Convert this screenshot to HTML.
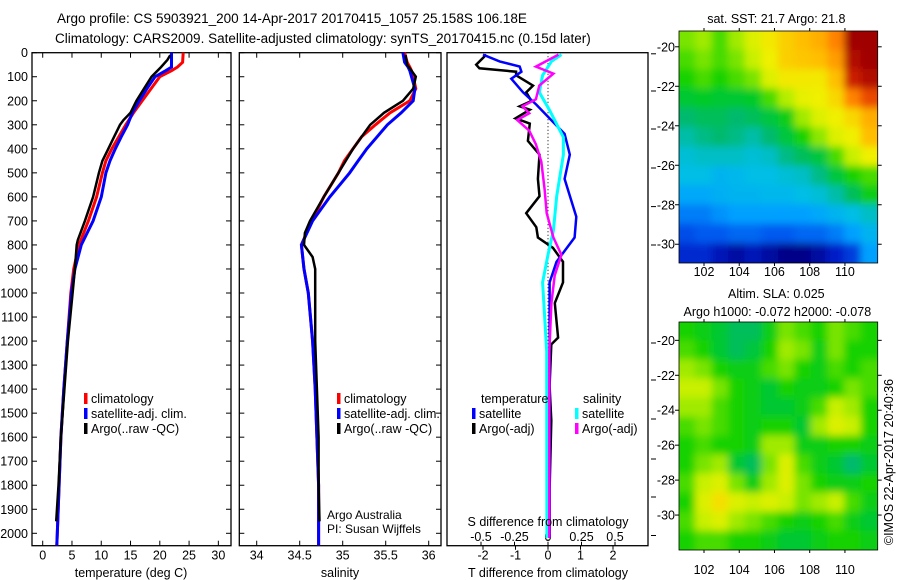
<!DOCTYPE html>
<html><head><meta charset="utf-8"><style>
body{margin:0;background:#fff;}
svg{display:block;font-family:"Liberation Sans",sans-serif;}
text{fill:#000;}
</style></head><body>
<svg id="root" width="900" height="580" viewBox="0 0 900 580">
<text x="57" y="23" font-size="13.5">Argo profile: CS 5903921_200 14-Apr-2017 20170415_1057 25.158S 106.18E</text>
<text x="55" y="43" font-size="13.5">Climatology: CARS2009. Satellite-adjusted climatology: synTS_20170415.nc (0.15d later)</text>
<g id="g1"></g>
<g id="g2"></g>
<g id="g3"></g>
<g id="g4"></g>
<g id="g5"></g>
<text x="0" y="0" font-size="12.5" text-anchor="middle" transform="translate(893,462) rotate(-90)">©IMOS 22-Apr-2017 20:40:36</text>
</svg>
<script>
// ---------- data ----------
const depthClim = [0,40,60,75,100,150,200,250,300,350,400,450,500,600,700,800,900,1000,1200,1400,1600,1800,2000,2050];
const tClim = [24,23.9,23,22,20,18.5,17,15.5,14.2,13,11.8,10.8,10.2,9.2,7.8,6.2,5.3,4.8,4.2,3.6,3.1,2.8,2.5,2.4];
const tSat  = [22,22,22,21,19.2,17.8,16.5,15.3,14.5,13.4,12.4,11.5,10.8,10,8.6,6.6,5.5,4.9,4.2,3.6,3.1,2.8,2.5,2.4];
const depthArgoT = [10,30,60,100,150,200,250,280,300,350,400,450,500,600,700,780,800,900,1000,1200,1400,1600,1800,1950];
const tArgo = [21.8,21.3,20.2,18.6,17.3,16,15,13.8,13.2,12.2,11.2,10.2,9.6,8.6,7.2,6,5.8,5.5,5.1,4.3,3.7,3.1,2.7,2.3];
const sClim = [35.72,35.75,35.78,35.8,35.82,35.85,35.78,35.55,35.38,35.22,35.12,35.02,34.95,34.78,34.64,34.52,34.55,34.6,34.65,34.68,34.7,34.72,34.72,34.72];
const sSat  = [35.7,35.72,35.76,35.78,35.8,35.84,35.82,35.68,35.52,35.4,35.28,35.18,35.08,34.85,34.65,34.52,34.55,34.6,34.65,34.68,34.7,34.72,34.72,34.72];
const depthArgoS = [10,50,100,150,200,250,300,400,500,600,700,750,800,850,900,1000,1200,1400,1600,1800,1950];
const sArgo = [35.73,35.75,35.85,35.82,35.7,35.48,35.32,35.12,34.95,34.78,34.62,34.56,34.55,34.65,34.68,34.68,34.68,34.7,34.72,34.72,34.73];
const dTSatDepth = [8,36,58,79,108,165,216,338,424,525,683,769,870,956,1243,2019];
const dTSat = [-2.0,-1.49,-0.87,-0.82,-1.13,-0.77,-0.36,0.51,0.67,0.51,0.87,0.82,0.26,0.05,0.05,0.05];
const dTArgoDepth = [8,50,65,79,94,137,165,201,223,237,273,295,367,424,525,597,668,726,769,812,870,956,1042,1186,1214,1387,1530,1818,2019];
const dTArgo = [-1.9,-2.21,-2.11,-0.98,-0.98,-0.46,-0.67,-0.51,-0.87,-0.56,-1.0,-0.56,-0.62,-0.26,-0.31,-0.26,-0.67,-0.36,-0.31,0.15,0.46,0.46,0.21,0.31,0.1,0.05,0.1,0.05,0.05];
const dSSatDepth = [8,36,94,165,237,352,424,597,740,841,956,1243,2019];
const dSSat = [0.10,0.025,-0.04,-0.065,0.01,0.115,0.115,0.065,0.04,0,-0.04,-0.01,-0.008];
const dSArgoDepth = [8,58,87,137,194,223,252,280,324,381,453,568,668,769,841,927,1042,1243,2019];
const dSArgo = [0.078,-0.09,0.04,-0.065,-0.09,-0.19,-0.14,-0.23,-0.14,-0.09,-0.05,-0.025,-0.01,0.04,0.1,0.05,0.025,0.01,0.01];
const depthTicks = [0,100,200,300,400,500,600,700,800,900,1000,1100,1200,1300,1400,1500,1600,1700,1800,1900,2000];
const tTicks = [0,5,10,15,20,25,30];
const sTicks = [34,34.5,35,35.5,36];
const dTTicks = [-2,-1,0,1,2];
const dSTicks = [-0.5,-0.25,0,0.25,0.5];
const latTicks = [-20,-22,-24,-26,-28,-30];
const lonTicks = [102,104,106,108,110];
// normalized colour values (0=dark blue .. 1=dark red), rows north->south, cols west->east
const sstGrid = [
[0.64,0.66,0.62,0.66,0.7,0.73,0.76,0.78,0.8,0.85,1.0,1.0],
[0.62,0.64,0.62,0.64,0.68,0.72,0.76,0.77,0.78,0.82,0.98,1.0],
[0.6,0.62,0.6,0.62,0.64,0.7,0.73,0.73,0.73,0.78,0.95,0.98],
[0.56,0.57,0.56,0.56,0.57,0.62,0.67,0.71,0.72,0.75,0.85,0.9],
[0.5,0.52,0.52,0.5,0.52,0.55,0.58,0.66,0.7,0.72,0.75,0.8],
[0.45,0.48,0.5,0.48,0.45,0.5,0.55,0.6,0.65,0.7,0.72,0.78],
[0.4,0.42,0.42,0.42,0.4,0.42,0.48,0.52,0.55,0.62,0.68,0.72],
[0.38,0.38,0.35,0.36,0.38,0.38,0.4,0.42,0.48,0.55,0.6,0.62],
[0.32,0.32,0.34,0.35,0.35,0.36,0.36,0.38,0.4,0.45,0.52,0.58],
[0.25,0.25,0.28,0.3,0.3,0.3,0.3,0.3,0.32,0.35,0.38,0.42],
[0.18,0.2,0.2,0.22,0.22,0.2,0.2,0.22,0.22,0.25,0.3,0.35],
[0.12,0.12,0.08,0.05,0.08,0.05,0.02,0.02,0.05,0.1,0.15,0.3]];
const slaGrid = [
[0.6,0.58,0.56,0.52,0.52,0.58,0.64,0.62,0.6,0.64,0.62,0.6],
[0.62,0.6,0.56,0.52,0.55,0.6,0.66,0.64,0.58,0.64,0.6,0.6],
[0.66,0.64,0.6,0.58,0.58,0.62,0.64,0.6,0.58,0.62,0.6,0.62],
[0.68,0.68,0.64,0.6,0.58,0.56,0.6,0.58,0.58,0.6,0.64,0.62],
[0.66,0.66,0.62,0.6,0.58,0.56,0.56,0.58,0.62,0.68,0.66,0.6],
[0.62,0.64,0.62,0.6,0.58,0.6,0.6,0.56,0.66,0.7,0.68,0.6],
[0.6,0.62,0.6,0.6,0.58,0.66,0.66,0.58,0.58,0.6,0.6,0.58],
[0.6,0.64,0.66,0.56,0.52,0.64,0.7,0.62,0.58,0.56,0.5,0.56],
[0.62,0.68,0.7,0.64,0.58,0.66,0.7,0.64,0.6,0.58,0.58,0.6],
[0.6,0.7,0.74,0.7,0.68,0.7,0.68,0.64,0.66,0.68,0.62,0.58],
[0.62,0.68,0.7,0.66,0.64,0.62,0.6,0.58,0.6,0.62,0.58,0.56],
[0.6,0.62,0.62,0.6,0.6,0.58,0.56,0.56,0.58,0.6,0.6,0.58]];

// ---------- helpers ----------
const NS='http://www.w3.org/2000/svg';
function mk(parent,tag,attrs,txt){const e=document.createElementNS(NS,tag);for(const k in attrs)e.setAttribute(k,attrs[k]);if(txt!==undefined)e.textContent=txt;parent.appendChild(e);return e;}
const TOP=52.7, BOT=545.7;
const yD=d=>TOP+d*0.2403;
const xT=t=>42.7+t*5.855;
const xS=s=>256.7+(s-34)*86;
const xDT=t=>548+t*32.5;
const xDS=s=>548+s*134;

function frame(g,x0,x1,name){
  const r=mk(g,'rect',{x:x0,y:TOP,width:x1-x0,height:BOT-TOP,fill:'none',stroke:'#000','stroke-width':1.3});
  
  
}
function line(g,xs,ys,color,w,name){
  const pts=xs.map((v,i)=>v.toFixed(1)+','+ys[i].toFixed(1)).join(' ');
  const p=mk(g,'polyline',{points:pts,fill:'none',stroke:color,'stroke-width':w,'stroke-linejoin':'miter'});
  
  
}
function depthTicksFor(g,x0,x1,labels){
  depthTicks.forEach(d=>{
    const y=yD(d);
    mk(g,'line',{x1:x0,y1:y,x2:x0+5,y2:y,stroke:'#000','stroke-width':1});
    mk(g,'line',{x1:x1,y1:y,x2:x1-5,y2:y,stroke:'#000','stroke-width':1});
    if(labels){const t=mk(g,'text',{x:x0-4,y:y+4.5,'font-size':12.5,'text-anchor':'end'},String(d));
      
      }
  });
}
function xTicksFor(g,vals,fx){
  vals.forEach(v=>{const x=fx(v);
    mk(g,'line',{x1:x,y1:BOT,x2:x,y2:BOT-5,stroke:'#000','stroke-width':1});
    mk(g,'line',{x1:x,y1:TOP,x2:x,y2:TOP+5,stroke:'#000','stroke-width':1});
    const t=mk(g,'text',{x:x,y:BOT+14,'font-size':12.5,'text-anchor':'middle'},String(v));
    
    
  });
}
function legend(g,x,y,color,label){
  const b=mk(g,'rect',{x:x,y:y-10,width:3.5,height:11,fill:color});
  
  
  const t=mk(g,'text',{x:x+7,y:y,'font-size':12.5},label);
  
  
}

// ---------- panel 1: temperature ----------
const g1=document.getElementById('g1');
frame(g1,32,231,'temperature-axes');
depthTicksFor(g1,32,231,true);
xTicksFor(g1,tTicks,xT);
line(g1,tClim.map(xT),depthClim.map(yD),'#f00',3,'temperature-climatology-line');
line(g1,tSat.map(xT),depthClim.map(yD),'#00f',3,'temperature-satellite-line');
line(g1,tArgo.map(xT),depthArgoT.map(yD),'#000',2.5,'temperature-argo-line');
legend(g1,84,403,'#f00','climatology');
legend(g1,84,418,'#00f','satellite-adj. clim.');
legend(g1,84,433,'#000','Argo(..raw -QC)');
mk(g1,'text',{x:131,y:577,'font-size':12.5,'text-anchor':'middle',},'temperature (deg C)');

// ---------- panel 2: salinity ----------
const g2=document.getElementById('g2');
frame(g2,239.3,441,'salinity-axes');
depthTicksFor(g2,239.3,441,false);
xTicksFor(g2,sTicks,xS);
line(g2,sClim.map(xS),depthClim.map(yD),'#f00',3,'salinity-climatology-line');
line(g2,sSat.map(xS),depthClim.map(yD),'#00f',3,'salinity-satellite-line');
line(g2,sArgo.map(xS),depthArgoS.map(yD),'#000',2.5,'salinity-argo-line');
legend(g2,337,403,'#f00','climatology');
legend(g2,337,418,'#00f','satellite-adj. clim.');
legend(g2,337,433,'#000','Argo(..raw -QC)');
mk(g2,'text',{x:327,y:519,'font-size':12,},'Argo Australia');
mk(g2,'text',{x:327,y:533,'font-size':12,},'PI: Susan Wijffels');
mk(g2,'text',{x:340,y:577,'font-size':12.5,'text-anchor':'middle',},'salinity');

// ---------- panel 3: differences ----------
const g3=document.getElementById('g3');
frame(g3,447,648,'difference-axes');
dTTicks.forEach(v=>{const x=xDT(v);
  mk(g3,'line',{x1:x,y1:BOT,x2:x,y2:BOT+4,stroke:'#000','stroke-width':1});
  const t=mk(g3,'text',{x:x,y:BOT+14,'font-size':12.5,'text-anchor':'middle'},String(v));
  
  
});
dSTicks.forEach(v=>{const x=xDS(v);
  mk(g3,'line',{x1:x,y1:BOT,x2:x,y2:BOT-4,stroke:'#000','stroke-width':1});
  const t=mk(g3,'text',{x:x,y:541,'font-size':12.5,'text-anchor':'middle'},String(v));
  
  
});
[53.8,91,129,168,206.6,245,343,380,419,459,497,535.5].forEach(y=>mk(g3,'line',{x1:651,y1:y,x2:656,y2:y,stroke:'#000','stroke-width':1}));
mk(g3,'line',{x1:xDT(0),y1:TOP,x2:xDT(0),y2:BOT,stroke:'#000','stroke-width':1,'stroke-dasharray':'1,2.5',});
line(g3,dTArgo.map(xDT),dTArgoDepth.map(yD),'#000',2.5,'t-diff-argo-line');
line(g3,dTSat.map(xDT),dTSatDepth.map(yD),'#00f',2.5,'t-diff-satellite-line');
line(g3,dSSat.map(xDS),dSSatDepth.map(yD),'#0ff',3,'s-diff-satellite-line');
line(g3,dSArgo.map(xDS),dSArgoDepth.map(yD),'#f0f',2.5,'s-diff-argo-line');
mk(g3,'text',{x:481,y:403,'font-size':12.5,},'temperature');
legend(g3,472,418,'#00f','satellite');
legend(g3,472,433,'#000','Argo(-adj)');
mk(g3,'text',{x:583,y:403,'font-size':12.5,},'salinity');
legend(g3,575,418,'#0ff','satellite');
legend(g3,575,433,'#f0f','Argo(-adj)');
mk(g3,'text',{x:548,y:526,'font-size':12.5,'text-anchor':'middle',},'S difference from climatology');
mk(g3,'text',{x:548,y:577,'font-size':12.5,'text-anchor':'middle',},'T difference from climatology');

// ---------- maps ----------
const cmapStops=[[0,0,0,120],[0.1,0,30,200],[0.2,0,90,240],[0.3,0,160,255],[0.38,0,190,230],[0.44,0,190,180],[0.5,0,185,110],[0.56,0,200,50],[0.6,20,210,0],[0.64,120,228,0],[0.68,200,240,0],[0.72,240,240,0],[0.78,255,190,0],[0.85,255,130,0],[0.93,220,40,0],[1,160,0,0]];
function cmap(v){
  v=Math.max(0,Math.min(1,v));
  for(let i=1;i<cmapStops.length;i++){
    const a=cmapStops[i-1],b=cmapStops[i];
    if(v<=b[0]){const f=(v-a[0])/(b[0]-a[0]);
      return 'rgb('+[1,2,3].map(k=>Math.round(a[k]+f*(b[k]-a[k]))).join(',')+')';}
  }
  return 'rgb(160,0,0)';
}
const LON0=100.58, LON1=111.86;
function drawMap(id,grid,x0,x1,yTop,yBot,latTop,latBot,name,title1,title2,labOff){
  const g=document.getElementById(id);
  const fx=lon=>x0+(lon-LON0)/(LON1-LON0)*(x1-x0);
  const fy=lat=>yTop+(latTop-lat)/(latTop-latBot)*(yBot-yTop);
  const cid='clip'+id;
  const cp=mk(g,'clipPath',{id:cid});
  mk(cp,'rect',{x:x0,y:yTop,width:x1-x0,height:yBot-yTop});
  const fid='blur'+id;
  const f=mk(g,'filter',{id:fid,x:'-10%',y:'-10%',width:'120%',height:'120%'});
  mk(f,'feGaussianBlur',{stdDeviation:4});
  const outer=mk(g,'g',{'clip-path':'url(#'+cid+')'});
  const cells=mk(outer,'g',{filter:'url(#'+fid+')'});
  const rows=grid.length, cols=grid[0].length;
  const cw=(x1-x0)/cols, ch=(yBot-yTop)/rows;
  grid.forEach((row,i)=>row.forEach((v,j)=>{
    // extend edge cells outward so blur does not fade at the borders
    const ex0=j===0?-12:-0.5, ex1=j===cols-1?12:0.5, ey0=i===0?-12:-0.5, ey1=i===rows-1?12:0.5;
    const r=mk(cells,'rect',{x:x0+j*cw+ex0,y:yTop+i*ch+ey0,width:cw-ex0+ex1,height:ch-ey0+ey1,fill:cmap(v)});
    
    
  }));
  mk(g,'rect',{x:x0,y:yTop,width:x1-x0,height:yBot-yTop,fill:'none',stroke:'#000','stroke-width':0.8});
  latTicks.forEach(l=>{const y=fy(l);
    mk(g,'line',{x1:x0-4,y1:y,x2:x0,y2:y,stroke:'#000'});
    mk(g,'line',{x1:x1,y1:y,x2:x1+4,y2:y,stroke:'#000'});
    const t=mk(g,'text',{x:x0-4,y:y+4.5,'font-size':12.5,'text-anchor':'end'},String(l));
    
    
  });
  lonTicks.forEach(l=>{const x=fx(l);
    mk(g,'line',{x1:x,y1:yBot,x2:x,y2:yBot+3,stroke:'#000'});
    mk(g,'line',{x1:x,y1:yTop,x2:x,y2:yTop-3,stroke:'#000'});
    const t=mk(g,'text',{x:x,y:yBot+labOff,'font-size':12.5,'text-anchor':'middle'},String(l));
    
    
  });
  if(title1){const t=mk(g,'text',{x:(x0+x1)/2-2,y:title2?298:23,'font-size':12.5,'text-anchor':'middle'},title1);
    
    }
  if(title2){const t=mk(g,'text',{x:(x0+x1)/2-1,y:316,'font-size':12.5,'text-anchor':'middle'},title2);
    
    }
}
drawMap('g4',sstGrid,679,877.7,31,263,-19.2,-30.95,'sst-map','sat. SST: 21.7 Argo: 21.8',null,13);
drawMap('g5',slaGrid,679,877.7,322,550,-18.95,-32.0,'sla-map','Altim. SLA: 0.025','Argo h1000: -0.072 h2000: -0.078',24);
</script>
</body></html>
